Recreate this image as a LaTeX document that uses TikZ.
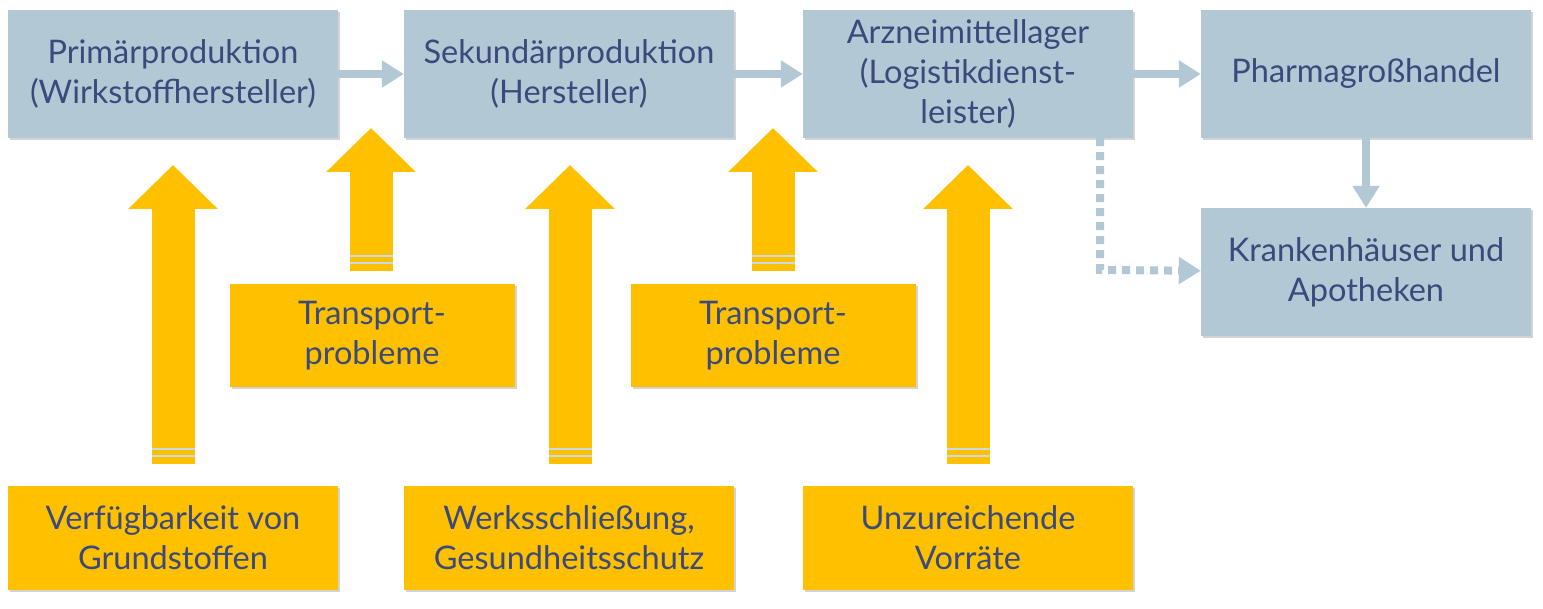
\documentclass[tikz,border=0pt]{standalone}
\usepackage{fontspec}
\setmainfont{Lato}
\usetikzlibrary{positioning}
\usetikzlibrary{arrows.meta}
\usetikzlibrary{shadows}
\definecolor{boxgray}{HTML}{B3C8D5}
\definecolor{boxyellow}{HTML}{FFC000}
\definecolor{txtblue}{HTML}{3B4A7C}
\tikzset{
    stage/.style={fill=boxgray, minimum width=330pt, minimum height=128pt, align=center,
        text=txtblue, font=\fontsize{32.5}{40}\selectfont, inner sep=0pt,
        drop shadow={shadow xshift=2pt, shadow yshift=-2pt, opacity=0.35}},
    risk/.style={stage, fill=boxyellow, minimum height=103pt},
    riskmid/.style={risk, minimum width=285pt},
    flow/.style={draw=boxgray, line width=8pt, -{Triangle[width=26pt, length=22pt]}},
    dotflow/.style={flow, dash pattern=on 8pt off 6pt},
    push/.style={draw=boxyellow, line width=43pt, -{Triangle[width=87pt, length=44pt]}},
    stripe/.style={draw=boxgray!70, line width=2pt}
}
\begin{document}
\begin{tikzpicture}[x=1pt, y=-1pt]
    \useasboundingbox (0,0) rectangle (1543,609);
    % supply chain
    \node[stage] (prim) at (173,74) {Primärproduktion\\(Wirkstoffhersteller)};
    \node[stage] (sek) at (569,74) {Sekundärproduktion\\(Hersteller)};
    \node[stage] (lager) at (968,74) {Arzneimittellager\\(Logistikdienst-\\leister)};
    \node[stage] (gross) at (1366,74) {Pharmagroßhandel};
    \node[stage] (kh) at (1366,272) {Krankenhäuser und\\Apotheken};
    \draw[flow] (prim) -- (sek);
    \draw[flow] (sek) -- (lager);
    \draw[flow] (lager) -- (gross);
    \draw[flow] (gross) -- (kh);
    \coordinate (ecke) at (1100,270);
    \draw[dotflow] (lager.south -| ecke) -- (ecke) -- (kh);
    % risks
    \node[risk] (verf) at (173,538) {Verfügbarkeit von\\Grundstoffen};
    \node[risk] (werk) at (569,538) {Werksschließung,\\Gesundheitsschutz};
    \node[risk] (vorr) at (968,538) {Unzureichende\\Vorräte};
    \node[riskmid] (trans1) at (372,336) {Transport-\\probleme};
    \node[riskmid] (trans2) at (773,336) {Transport-\\probleme};
    % arrows
    \foreach \x/\top/\bot in {173/165/464, 371/128/271, 570/165/464, 773/128/271, 968/165/464}{
        \draw[push] (\x,\bot) -- (\x,\top);
        \draw[stripe] (\x-21.5,\bot-15) -- (\x+21.5,\bot-15);
        \draw[stripe] (\x-21.5,\bot-8) -- (\x+21.5,\bot-8);
    }
\end{tikzpicture}
\end{document}
